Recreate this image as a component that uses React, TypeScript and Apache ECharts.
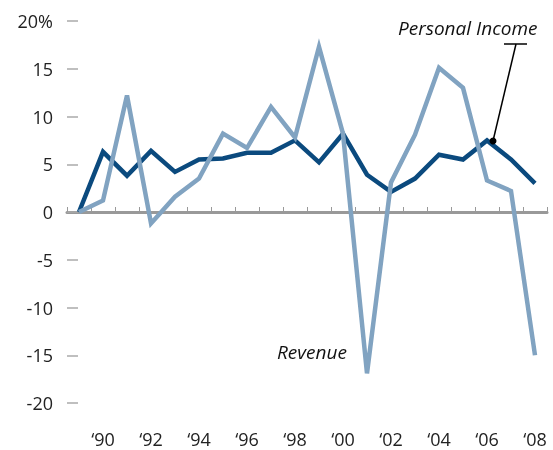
import React, { useEffect, useRef } from "react";
import * as echarts from "echarts";

const years = ["1989","1990","1991","1992","1993","1994","1995","1996","1997","1998","1999","2000","2001","2002","2003","2004","2005","2006","2007","2008"];
const personalIncome = [0, 6.3, 3.8, 6.4, 4.2, 5.5, 5.6, 6.2, 6.2, 7.5, 5.2, 8.2, 3.9, 2.1, 3.5, 6.0, 5.5, 7.5, 5.5, 3.0];
const revenue = [0, 1.2, 12.2, -1.2, 1.6, 3.5, 8.2, 6.7, 11.0, 7.8, 17.3, 8.2, -16.9, 3.1, 8.1, 15.1, 13.0, 3.3, 2.2, -15.0];
const yTicks = [-20, -15, -10, -5, 0, 5, 10, 15, 20];

const FONT = "'Open Sans', 'Noto Sans', sans-serif";

export default function App() {
  const ref = useRef<HTMLDivElement>(null);
  useEffect(() => {
    if (!ref.current) return;
    const chart = echarts.init(ref.current, null, { renderer: "svg" });
    chart.setOption({
      animation: false,
      grid: { left: 67, right: 6, top: 21, bottom: 47 },
      xAxis: [
        {
          type: "category",
          data: years,
          position: "bottom",
          boundaryGap: true,
          axisLine: { show: false, onZero: false },
          axisTick: { show: false },
          axisLabel: {
            interval: (index: number) => index % 2 === 1,
            formatter: (v: string) => "\u2018" + v.slice(2),
            fontFamily: FONT,
            fontSize: 18,
            lineHeight: 18,
            color: "#222",
            margin: 27,
          },
        },
        {
          type: "category",
          data: years,
          position: "bottom",
          boundaryGap: true,
          axisLine: { show: true, onZero: true, lineStyle: { color: "#999", width: 3 } },
          axisTick: { show: true, inside: true, length: 5, interval: 0, lineStyle: { color: "#999", width: 1 } },
          axisLabel: { show: false },
        },
      ],
      yAxis: {
        type: "value",
        min: yTicks[0],
        max: yTicks[yTicks.length - 1],
        interval: 5,
        axisLine: { show: false },
        splitLine: { show: false },
        axisTick: { show: true, inside: true, length: 11, lineStyle: { color: "#aaa", width: 1.5 } },
        axisLabel: {
          formatter: (v: number) => (v === 20 ? "20%" : String(v)),
          fontFamily: FONT,
          fontSize: 18,
          color: "#222",
          margin: 14,
        },
      },
      series: [
        {
          name: "Personal Income",
          type: "line",
          data: personalIncome,
          symbol: "none",
          lineStyle: { color: "#0b4a7e", width: 4.5, join: "miter" },
          z: 2,
        },
        {
          name: "Revenue",
          type: "line",
          data: revenue,
          symbol: "none",
          lineStyle: { color: "#81a3c1", width: 4.5, join: "miter" },
          z: 3,
        },
      ],
      graphic: [
        {
          type: "text",
          left: 398,
          top: 18,
          style: { text: "Personal Income", font: `italic 19px ${FONT}`, fill: "#111" },
          z: 10,
        },
        { type: "line", shape: { x1: 504, y1: 44, x2: 527, y2: 44 }, style: { stroke: "#000", lineWidth: 1.5 }, z: 10 },
        { type: "line", shape: { x1: 516, y1: 44, x2: 493, y2: 141 }, style: { stroke: "#000", lineWidth: 1.5 }, z: 10 },
        { type: "circle", shape: { cx: 493, cy: 141, r: 3.5 }, style: { fill: "#000" }, z: 10 },
        {
          type: "text",
          left: 277,
          top: 342,
          style: { text: "Revenue", font: `italic 19px ${FONT}`, fill: "#111" },
          z: 10,
        },
      ],
    });
    return () => chart.dispose();
  }, []);
  return <div ref={ref} style={{ position: "fixed", left: 0, top: 0, width: 553, height: 450 }} />;
}
